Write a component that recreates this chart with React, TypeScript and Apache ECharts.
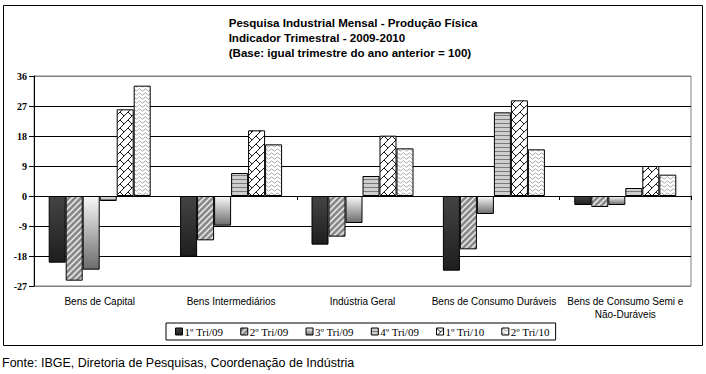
import React, { useEffect, useRef } from "react";
import * as echarts from "echarts";

const categories = [
  "Bens de Capital",
  "Bens Intermediários",
  "Indústria Geral",
  "Bens de Consumo Duráveis",
  "Bens de Consumo Semi e\nNão-Duráveis",
];
const seriesNames = ["1º Tri/09", "2º Tri/09", "3º Tri/09", "4º Tri/09", "1º Tri/10", "2º Tri/10"];
const tri1_09 = [-20.0, -18.2, -14.6, -22.4, -2.7];
const tri2_09 = [-25.4, -13.3, -12.2, -16.0, -3.3];
const tri3_09 = [-22.1, -8.9, -8.1, -5.4, -2.7];
const tri4_09 = [-1.5, 6.9, 6.0, 25.1, 2.4];
const tri1_10 = [26.0, 19.7, 18.1, 28.7, 9.0];
const tri2_10 = [33.1, 15.5, 14.3, 14.0, 6.4];
const yTicks = [-27, -18, -9, 0, 9, 18, 27, 36];

function makePattern(w: number, h: number, draw: (ctx: CanvasRenderingContext2D) => void) {
  const c = document.createElement("canvas");
  c.width = w;
  c.height = h;
  const ctx = c.getContext("2d")!;
  draw(ctx);
  return { image: c.toDataURL(), imageWidth: w, imageHeight: h, repeat: "repeat" } as any;
}

export default function App() {
  const ref = useRef<HTMLDivElement>(null);
  useEffect(() => {
    document.body.style.margin = "0";
    const chart = echarts.init(ref.current!, null, { renderer: "svg" });

    const fillDark = {
      type: "linear", x: 0, y: 0, x2: 0, y2: 1,
      colorStops: [{ offset: 0, color: "#444444" }, { offset: 1, color: "#1e1e1e" }],
    };
    const fillStripes = makePattern(6, 6, (ctx) => {
      ctx.fillStyle = "#8a8a8a";
      ctx.fillRect(0, 0, 6, 6);
      ctx.strokeStyle = "#ececec";
      ctx.lineWidth = 1.5;
      ctx.beginPath();
      ctx.moveTo(-1, 7); ctx.lineTo(7, -1);
      ctx.moveTo(-4, 4); ctx.lineTo(4, -4);
      ctx.moveTo(2, 10); ctx.lineTo(10, 2);
      ctx.stroke();
    });
    const fillLight = {
      type: "linear", x: 0, y: 0, x2: 0, y2: 1,
      colorStops: [{ offset: 0, color: "#f8f8f8" }, { offset: 1, color: "#6c6c6c" }],
    };
    const fillHLines = makePattern(4, 4, (ctx) => {
      ctx.fillStyle = "#cfcfcf";
      ctx.fillRect(0, 0, 4, 4);
      ctx.fillStyle = "#7a7a7a";
      ctx.fillRect(0, 3, 4, 1);
    });
    const fillLattice = makePattern(8, 8, (ctx) => {
      ctx.fillStyle = "#ffffff";
      ctx.fillRect(0, 0, 8, 8);
      ctx.strokeStyle = "#000000";
      ctx.lineWidth = 0.9;
      ctx.beginPath();
      ctx.moveTo(0, 8); ctx.lineTo(8, 0);
      ctx.moveTo(0, 0); ctx.lineTo(4, 4);
      ctx.stroke();
    });
    const fillWave = makePattern(6, 4, (ctx) => {
      ctx.fillStyle = "#ffffff";
      ctx.fillRect(0, 0, 6, 4);
      ctx.strokeStyle = "#a8a8a8";
      ctx.lineWidth = 1;
      ctx.beginPath();
      ctx.moveTo(0, 2); ctx.lineTo(1.5, 0.8); ctx.lineTo(3, 2); ctx.lineTo(4.5, 3.2); ctx.lineTo(6, 2);
      ctx.stroke();
    });

    const fills = [fillDark, fillStripes, fillLight, fillHLines, fillLattice, fillWave];
    const values = [tri1_09, tri2_09, tri3_09, tri4_09, tri1_10, tri2_10];

    const gridColors = yTicks.map((t, i) => (i === 0 || i === yTicks.length - 1 ? "#808080" : "#000000"));

    chart.setOption({
      animation: false,
      backgroundColor: "#ffffff",
      title: {
        text: "Pesquisa Industrial Mensal - Produção Física\nIndicador Trimestral - 2009-2010\n(Base: igual trimestre do ano anterior = 100)",
        left: "center",
        top: 15,
        padding: 0,
        textAlign: "left",
        textStyle: {
          fontFamily: "'Liberation Sans', Arial, sans-serif",
          fontSize: 11.6,
          fontWeight: "bold",
          lineHeight: 15,
          color: "#000",
          align: "center",
        },
      },
      grid: {
        left: 34,
        right: 15,
        top: 76,
        bottom: 88,
        show: true,
        borderColor: "#808080",
        borderWidth: 1,
        containLabel: false,
      },
      legend: {
        left: 166,
        top: 323,
        padding: [3, 6, 3, 9],
        borderColor: "#000",
        borderWidth: 1,
        itemWidth: 7,
        itemHeight: 7,
        itemGap: 17,
        icon: "rect",
        data: seriesNames,
        itemStyle: { borderColor: "#000", borderWidth: 1 },
        textStyle: {
          fontFamily: "'Liberation Serif', 'Times New Roman', serif",
          fontSize: 11,
          color: "#000",
          padding: [0, 0, 0, -3],
        },
      },
      xAxis: [
        {
          type: "category",
          data: categories,
          position: "bottom",
          axisLine: { show: true, onZero: true, lineStyle: { color: "#000", width: 1 } },
          axisTick: { show: true, length: 4, lineStyle: { color: "#000" } },
          axisLabel: { show: false },
          splitLine: { show: false },
        },
        {
          type: "category",
          data: categories,
          position: "bottom",
          axisLine: { show: false, onZero: false },
          axisTick: { show: false },
          axisLabel: {
            show: true,
            interval: 0,
            margin: 9,
            fontFamily: "'Liberation Sans', Arial, sans-serif",
            fontSize: 10,
            lineHeight: 13,
            color: "#000",
          },
          splitLine: { show: false },
        },
      ],
      yAxis: {
        type: "value",
        min: -27,
        max: 36,
        interval: 9,
        axisLine: { show: true, lineStyle: { color: "#000", width: 1 } },
        axisTick: { show: true, length: 5, lineStyle: { color: "#000" } },
        axisLabel: {
          margin: 7,
          fontFamily: "'Liberation Serif', 'Times New Roman', serif",
          fontSize: 10,
          fontWeight: "bold",
          color: "#000",
        },
        splitLine: { show: true, lineStyle: { color: gridColors, width: 1 } },
      },
      series: seriesNames.map((name, i) => ({
        name,
        type: "bar",
        xAxisIndex: 0,
        data: values[i],
        barWidth: 17,
        barGap: "0%",
        itemStyle: { color: fills[i], borderColor: "#000", borderWidth: 1 },
      })),
      graphic: [
        {
          type: "rect",
          silent: true,
          z: 100,
          shape: { x: 3.5, y: 5.5, width: 699, height: 340 },
          style: { fill: "none", stroke: "#000", lineWidth: 1 },
        },
        {
          type: "text",
          left: 2,
          top: 356,
          style: {
            text: "Fonte: IBGE, Diretoria de Pesquisas, Coordenação de Indústria",
            font: "12.5px 'Liberation Sans', Arial, sans-serif",
            fill: "#000",
          },
        },
      ],
    });
    return () => chart.dispose();
  }, []);
  return <div ref={ref} style={{ position: "absolute", left: 0, top: 0, width: 706, height: 374 }} />;
}
